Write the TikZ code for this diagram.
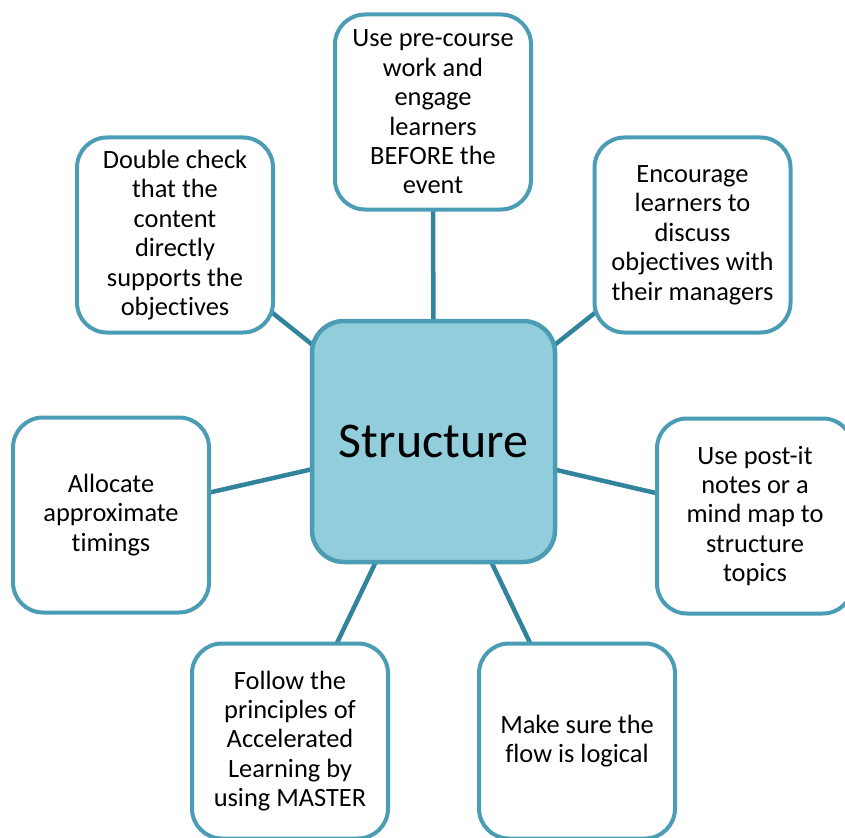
\documentclass[tikz,border=0pt]{standalone}
\usepackage{fontspec}
\setmainfont[Ligatures=NoCommon]{Carlito}
\definecolor{boxline}{HTML}{4A9DB5}
\definecolor{hubfill}{HTML}{92CDDC}
\definecolor{linkline}{HTML}{31849B}
\pgfdeclarelayer{bg}
\pgfsetlayers{bg,main}
\tikzset{
  idea/.style={draw=boxline, line width=4pt, fill=white, rounded corners=30pt,
    minimum width=196pt, minimum height=195pt, align=center, inner sep=0pt,
    font=\fontsize{26.4}{29.4}\selectfont},
  hub/.style={draw=boxline, line width=4.5pt, fill=hubfill, rounded corners=32pt,
    minimum width=243pt, minimum height=241pt, align=center, inner sep=0pt,
    font=\fontsize{50}{58}\selectfont},
  link/.style={draw=linkline, line width=4.5pt}
}
\begin{document}
\begin{tikzpicture}[x=1pt,y=-1pt]
\useasboundingbox (0,0) rectangle (845,837);
\node[hub] (hub) at (433.5,441.5) {Structure};
\node[idea] (top) at (433,112) {Use pre-course\\work and\\engage\\learners\\BEFORE the\\event};
\node[idea] (tl) at (175,235) {Double check\\that the\\content\\directly\\supports the\\objectives};
\node[idea] (tr) at (692.5,235) {Encourage\\learners to\\discuss\\objectives with\\their managers};
\node[idea] (lft) at (111,515) {Allocate\\approximate\\timings};
\node[idea] (rgt) at (755,516) {Use post-it\\notes or a\\mind map to\\structure\\topics};
\node[idea] (bl) at (290,741) {Follow the\\principles of\\Accelerated\\Learning by\\using MASTER};
\node[idea] (br) at (577,741) {Make sure the\\flow is logical};
\begin{pgfonlayer}{bg}
\foreach \n in {top,tl,tr,lft,rgt,bl,br}
  \draw[link] (hub.center) -- (\n.center);
\end{pgfonlayer}
\end{tikzpicture}
\end{document}
